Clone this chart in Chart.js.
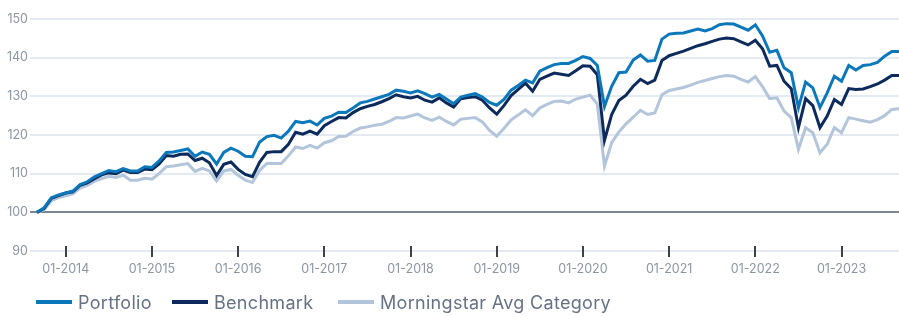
<!DOCTYPE html>
<html>
<head>
<meta charset="utf-8">
<script src="https://cdn.jsdelivr.net/npm/chart.js@4.4.1/dist/chart.umd.min.js"></script>
<style>
  html, body { margin: 0; padding: 0; background: #fff; }
  .wrap { position: relative; width: 899px; height: 316px; }
  .legend { position: absolute; left: 0; top: 292px; width: 899px; height: 20px;
            font-family: Inter, sans-serif; font-size: 18px; letter-spacing: 0.3px; color: #667284; }
  .legend .item { position: absolute; top: 0; height: 20px; display: flex; align-items: center; white-space: nowrap; }
  .legend .swatch { width: 36px; height: 4px; margin-right: 6px; }
</style>
</head>
<body>
<div class="wrap">
  <canvas id="perfChart"></canvas>
  <div class="legend" id="legend"></div>
</div>
<script>
// monthly points, first value 09-2013 (= 100)
const startYear = 2013;
const startMonth = 9;

const tickLabels = ["01-2014", "01-2015", "01-2016", "01-2017", "01-2018",
                    "01-2019", "01-2020", "01-2021", "01-2022", "01-2023"];

const portfolio = [
  100.0, 101.2, 103.8, 104.5, 105.0, 105.5, 107.2, 107.9, 109.2, 110.0,
  110.8, 110.5, 111.3, 110.7, 110.7, 111.8, 111.6, 113.3, 115.5, 115.6,
  116.0, 116.4, 114.5, 115.6, 115.0, 112.5, 115.5, 116.6, 115.8, 114.5,
  114.4, 118.2, 119.6, 119.9, 119.2, 121.0, 123.5, 123.2, 123.6, 122.6,
  124.3, 124.9, 125.9, 125.8, 127.0, 128.3, 128.7, 129.3, 129.9, 130.5,
  131.6, 131.3, 130.9, 131.4, 130.7, 129.8, 130.5, 129.3, 128.1, 129.8,
  130.3, 130.7, 129.8, 128.4, 127.7, 129.2, 131.6, 132.8, 134.2, 133.5,
  136.5, 137.4, 138.2, 138.5, 138.5, 139.3, 140.3, 139.8, 138.0, 127.4,
  132.6, 136.1, 136.3, 139.4, 140.7, 139.1, 139.3, 144.8, 146.1, 146.3,
  146.4, 146.9, 147.4, 146.9, 147.5, 148.5, 148.8, 148.7, 147.9, 147.1,
  148.5, 145.6, 141.4, 141.9, 137.4, 136.1, 127.1, 133.7, 132.2, 127.1,
  130.9, 135.2, 133.9, 138.0, 136.8, 138.0, 138.2, 138.8, 140.4, 141.6,
  141.6
];

const benchmark = [
  100.0, 101.0, 103.6, 104.3, 105.0, 105.3, 107.0, 107.6, 108.7, 109.7,
  110.2, 110.0, 110.9, 110.3, 110.3, 111.2, 111.0, 112.5, 114.7, 114.5,
  115.0, 115.1, 113.4, 114.0, 112.8, 109.5, 112.4, 113.0, 111.1, 109.8,
  109.2, 113.0, 115.5, 115.7, 115.7, 117.6, 120.7, 120.2, 121.0, 120.2,
  122.4, 123.5, 124.5, 124.4, 125.8, 126.8, 127.4, 127.9, 128.6, 129.4,
  130.4, 129.9, 129.6, 130.0, 129.0, 128.5, 129.6, 128.3, 127.2, 129.4,
  129.7, 129.9, 129.0, 127.0, 125.4, 127.6, 130.2, 131.8, 133.4, 131.3,
  134.4, 135.2, 136.0, 135.7, 135.4, 136.6, 137.9, 137.8, 135.6, 118.6,
  125.3, 128.9, 130.3, 132.6, 134.4, 133.3, 134.2, 139.3, 140.5, 141.1,
  141.7, 142.4, 143.1, 143.6, 144.2, 144.8, 145.1, 144.9, 144.1, 143.3,
  144.5, 142.3, 137.8, 138.0, 133.9, 132.0, 121.9, 129.4, 127.6, 121.9,
  124.9, 129.2, 127.9, 132.0, 131.8, 131.9, 132.5, 133.2, 134.2, 135.4,
  135.4
];

const category = [
  100.0, 100.7, 103.0, 103.8, 104.3, 104.8, 106.3, 107.0, 108.0, 108.7,
  109.3, 109.0, 109.6, 108.3, 108.3, 108.8, 108.6, 110.0, 111.8, 112.0,
  112.3, 112.6, 110.6, 111.4, 110.7, 108.1, 110.7, 111.1, 109.6, 108.3,
  107.7, 110.9, 112.6, 112.6, 112.6, 114.6, 116.9, 116.5, 117.3, 116.6,
  118.0, 118.5, 119.6, 119.7, 120.9, 121.8, 122.1, 122.5, 122.8, 123.5,
  124.5, 124.4, 124.9, 125.4, 124.4, 123.8, 124.6, 123.5, 122.6, 124.1,
  124.3, 124.5, 123.4, 121.2, 119.7, 121.7, 123.9, 125.2, 126.5, 125.0,
  127.0, 127.9, 128.7, 128.8, 128.3, 129.3, 129.8, 130.3, 128.0, 112.0,
  118.0, 120.8, 122.9, 124.6, 126.4, 125.3, 125.7, 130.4, 131.5, 131.9,
  132.3, 132.9, 133.6, 134.1, 134.6, 135.1, 135.4, 135.2, 134.4, 133.7,
  135.1, 132.5, 129.4, 129.6, 126.2, 124.5, 116.3, 121.9, 120.6, 115.4,
  117.6, 121.9, 120.6, 124.5, 124.1, 123.7, 123.3, 124.0, 125.0, 126.6,
  126.8
];

const seriesNames = ["Portfolio", "Benchmark", "Morningstar Avg Category"];
const seriesColors = ["#0b78bb", "#0d2a5c", "#b3c5da"];
const legendLeft = [36, 172, 338];

// month label for every point, "MM-YYYY"
const months = portfolio.map((v, i) => {
  const m = (startMonth - 1 + i) % 12 + 1;
  const y = startYear + Math.floor((startMonth - 1 + i) / 12);
  return String(m).padStart(2, "0") + "-" + y;
});
const tickIndex = tickLabels.map((l) => months.indexOf(l));

const tickFont = { family: "Inter", size: 12.5 };
const tickColor = "#8c96a3";

// short dark marks across the bottom line at each year tick
const yearMarks = {
  id: "yearMarks",
  afterDraw(chart) {
    const { ctx, chartArea, scales } = chart;
    ctx.save();
    ctx.strokeStyle = "#3b4347";
    ctx.lineWidth = 2;
    scales.x.ticks.forEach((t) => {
      const px = Math.round(scales.x.getPixelForValue(t.value));
      ctx.beginPath();
      ctx.moveTo(px, chartArea.bottom - 5);
      ctx.lineTo(px, chartArea.bottom + 6);
      ctx.stroke();
    });
    ctx.restore();
  }
};

const allSeries = [portfolio, benchmark, category];

const chart = new Chart(document.getElementById("perfChart"), {
  type: "line",
  data: {
    datasets: allSeries.map((s, k) => ({
      label: seriesNames[k],
      data: s.map((v, i) => ({ x: i, y: v })),
      borderColor: seriesColors[k],
      backgroundColor: seriesColors[k],
      borderWidth: 3,
      pointRadius: 0,
      tension: 0,
      fill: false
    }))
  },
  options: {
    responsive: true,
    maintainAspectRatio: false,
    animation: false,
    layout: { padding: { top: 19, bottom: 28, left: 0, right: 0 } },
    plugins: { legend: { display: false }, tooltip: { enabled: false } },
    scales: {
      x: {
        type: "linear",
        min: -0.974,
        max: months.length - 1,
        afterBuildTicks: (scale) => {
          scale.ticks = tickIndex.map((v) => ({ value: v }));
        },
        ticks: {
          autoSkip: false,
          maxRotation: 0,
          padding: 11,
          color: tickColor,
          font: tickFont,
          callback: (v, i) => tickLabels[i]
        },
        grid: { display: false, drawTicks: false },
        border: { display: false }
      },
      y: {
        min: 90,
        max: 150,
        afterFit: (scale) => { scale.width = 30; },
        ticks: { stepSize: 10, padding: 2, color: tickColor, font: tickFont },
        grid: {
          drawTicks: false,
          lineWidth: 2,
          color: (c) => (c.tick && c.tick.value === 100 ? "#7b8594" : "#e3eaf1")
        },
        border: { display: false }
      }
    }
  },
  plugins: [yearMarks]
});

// html legend
const legend = document.getElementById("legend");
chart.data.datasets.forEach((ds, k) => {
  const item = document.createElement("div");
  item.className = "item";
  item.style.left = legendLeft[k] + "px";
  const sw = document.createElement("span");
  sw.className = "swatch";
  sw.style.background = ds.borderColor;
  const tx = document.createElement("span");
  tx.textContent = ds.label;
  item.appendChild(sw);
  item.appendChild(tx);
  legend.appendChild(item);
});
</script>
</body>
</html>
